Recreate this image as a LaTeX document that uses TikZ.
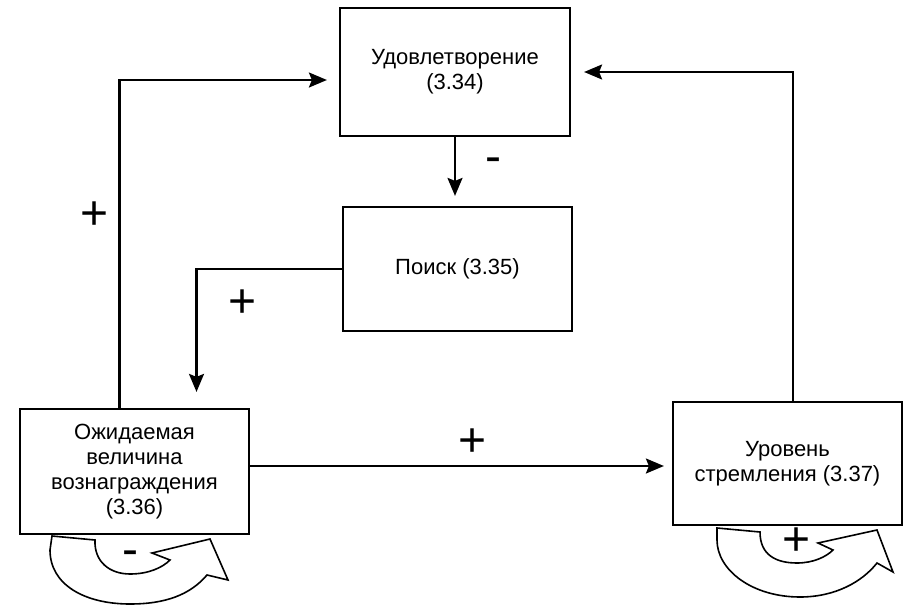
\documentclass[tikz,border=0pt]{standalone}
\usepackage{fontspec}
\setmainfont{Liberation Sans}
\usetikzlibrary{arrows.meta}

\begin{document}
\begin{tikzpicture}[x=1pt,y=-1pt,line width=2.2pt,
    >={Stealth[length=18pt,width=15pt,inset=3pt]},
    sign/.style={inner sep=0pt,font=\fontsize{48}{48}\selectfont},
    loopbody/.style={line width=1.6pt,line join=miter}]

      \useasboundingbox (0,0) rectangle (903,605);

      \begin{scope}[every node/.style={draw,rectangle,align=center,inner sep=0pt,
          font=\fontsize{22}{25}\selectfont}]
        \node[minimum width=230,minimum height=128] (sat)    at (455,72)      {Удовлетворение\\(3.34)};
        \node[minimum width=229,minimum height=124] (search) at (457.5,269)   {Поиск (3.35)};
        \node[minimum width=229,minimum height=125] (expect) at (134.5,471.5) {Ожидаемая\\величина\\вознаграждения\\(3.36)};
        \node[minimum width=229,minimum height=123] (aspire) at (787.5,463.5) {Уровень\\стремления (3.37)};
      \end{scope}

      \draw[->,shorten >=10pt] (sat.south) -- (sat.south |- search.north);
      \draw[->,shorten >=16pt] (search.west) -| ([xshift=62pt]expect.north);
      \draw[->,shorten >=12pt] ([xshift=-15pt]expect.north) |- ([yshift=-8pt]sat.west);
      \draw[->,shorten >=8pt]  ([yshift=5.5pt]expect.east) -- ([yshift=-2.5pt]aspire.west);
      \draw[->,shorten >=13pt] ([xshift=5.5pt]aspire.north) |- (sat.east);

      % self loops
      \draw[loopbody] (52,536) -- (95,540) .. controls (94,562) and (110,574) .. (130,574)
        .. controls (148,574) and (162,568) .. (170,560) -- (152,553) -- (210,539)
        -- (228,580) -- (207,575) .. controls (190,595) and (165,604) .. (130,604)
        .. controls (85,604) and (50,585) .. (50,550) -- cycle;
      \draw[loopbody] (717,528) -- (760,532) .. controls (760,555) and (776,563) .. (797,563)
        .. controls (813,563) and (826,557) .. (833,550) -- (818,543) -- (877,530)
        -- (893,572) -- (877,563) .. controls (862,582) and (835,597) .. (800,597)
        .. controls (752,597) and (717,570) .. (717,540) -- cycle;

      \begin{scope}[every node/.style={sign}]
        \node (p1) at (95,216)  {+};
        \node (p2) at (243,304) {+};
        \node (p3) at (473,443) {+};
        \node (p4) at (797,542) {+};
        \node (m1) at (493,165) {-};
        \node (m2) at (130,558) {-};
      \end{scope}

    \end{tikzpicture}
\end{document}
